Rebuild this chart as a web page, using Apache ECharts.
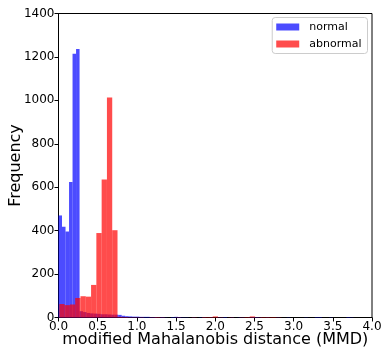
<!DOCTYPE html>
<html>
<head>
<meta charset="utf-8">
<script src="https://cdn.jsdelivr.net/npm/echarts@6/dist/echarts.min.js"></script>
<style>
  html, body { margin: 0; padding: 0; background: #fff; }
  #chart { width: 381px; height: 351px; }
</style>
</head>
<body>
<div id="chart"></div>
<script>
// Histogram bin layout (in MMD units) for each group
const normalBinStart = 0.0;
const normalBinWidth = 0.0448;
const abnormalBinStart = 0.0105;
const abnormalBinWidth = 0.0675;

// Counts per bin
const normalCounts = [
  470, 418, 396, 624, 1215, 1236,
  29, 25, 21, 19, 18, 17, 15, 15, 14, 13, 13, 12,
  8, 6, 5, 4, 4, 3, 3, 3, 2,
  2, 1, 2, 1, 0, 2, 3, 2, 1, 1, 0,
  1, 0, 1, 1, 0, 1, 0, 1, 1,
  2,
  0, 1, 0, 1, 1, 0, 1,
  2, 2,
  1, 0, 1, 0, 0, 1, 0, 0, 1, 0, 0, 0, 0, 1, 0, 0,
  2, 2,
  0, 0, 1, 0, 0, 0, 0,
  2, 1
];
const abnormalCounts = [
  62, 57, 60, 90, 98, 96, 150, 389, 636, 1013, 402,
  3, 2, 1, 1, 1, 0, 1,
  2,
  1, 0, 0, 1, 0, 0, 1, 0,
  2, 2, 5, 1, 0, 1, 0, 1, 2, 5, 1, 2, 2, 2, 1
];

const xTicks = { min: 0, max: 4, step: 0.5 };
const yTicks = { min: 0, max: 1400, step: 200 };

function toBins(start, width, counts) {
  return counts.map((c, i) => [start + i * width, start + (i + 1) * width, c]);
}

function renderBar(params, api) {
  const x0 = api.value(0), x1 = api.value(1), v = api.value(2);
  if (!v) return null;
  const p0 = api.coord([x0, v]);
  const p1 = api.coord([x1, 0]);
  const shape = echarts.graphic.clipRectByRect(
    { x: p0[0], y: p0[1], width: p1[0] - p0[0], height: p1[1] - p0[1] },
    { x: params.coordSys.x, y: params.coordSys.y, width: params.coordSys.width, height: params.coordSys.height }
  );
  return shape && { type: 'rect', shape: shape, style: api.style() };
}

const font = 'DejaVu Sans';
const chart = echarts.init(document.getElementById('chart'), null, { renderer: 'canvas' });
chart.setOption({
  animation: false,
  grid: {
    left: 58.5, right: 9, top: 13.5, bottom: 33.5,
    containLabel: false, outerBoundsMode: 'none',
    show: true, borderColor: '#000', borderWidth: 1, backgroundColor: 'transparent'
  },
  legend: {
    right: 13.5, top: 17.5,
    orient: 'vertical',
    icon: 'rect',
    itemWidth: 23, itemHeight: 7, itemGap: 4,
    padding: [3, 6, 3, 4],
    borderColor: '#cccccc', borderWidth: 1, borderRadius: 3,
    backgroundColor: 'rgba(255,255,255,0.8)',
    textStyle: { fontFamily: font, fontSize: 11, lineHeight: 13, color: '#000', padding: [0, 0, 0, 5] },
    data: ['normal', 'abnormal']
  },
  xAxis: {
    type: 'value',
    min: xTicks.min, max: xTicks.max, interval: xTicks.step,
    name: 'modified Mahalanobis distance (MMD)',
    nameLocation: 'middle', nameGap: 14, nameMoveOverlap: false,
    nameTextStyle: { fontFamily: font, fontSize: 16, color: '#000', verticalAlign: 'top' },
    axisLine: { lineStyle: { color: '#000', width: 1 } },
    axisTick: { show: true, length: 4, lineStyle: { color: '#000' } },
    axisLabel: { fontFamily: font, fontSize: 12, color: '#000', margin: 3, formatter: v => v.toFixed(1) },
    splitLine: { show: false }
  },
  yAxis: {
    type: 'value',
    min: yTicks.min, max: yTicks.max, interval: yTicks.step,
    name: 'Frequency',
    nameLocation: 'middle', nameGap: 35, nameRotate: 90, nameMoveOverlap: false,
    nameTextStyle: { fontFamily: font, fontSize: 16, color: '#000' },
    axisLine: { show: true, lineStyle: { color: '#000', width: 1 } },
    axisTick: { show: true, length: 4, lineStyle: { color: '#000' } },
    axisLabel: { fontFamily: font, fontSize: 12, color: '#000', margin: 4, formatter: v => String(v) },
    splitLine: { show: false }
  },
  series: [
    {
      name: 'normal',
      type: 'custom',
      renderItem: renderBar,
      itemStyle: { color: 'rgba(0,0,255,0.7)' },
      encode: { x: [0, 1], y: 2 },
      data: toBins(normalBinStart, normalBinWidth, normalCounts),
      silent: true
    },
    {
      name: 'abnormal',
      type: 'custom',
      renderItem: renderBar,
      itemStyle: { color: 'rgba(255,0,0,0.7)' },
      encode: { x: [0, 1], y: 2 },
      data: toBins(abnormalBinStart, abnormalBinWidth, abnormalCounts),
      silent: true
    }
  ]
});
</script>
</body>
</html>
